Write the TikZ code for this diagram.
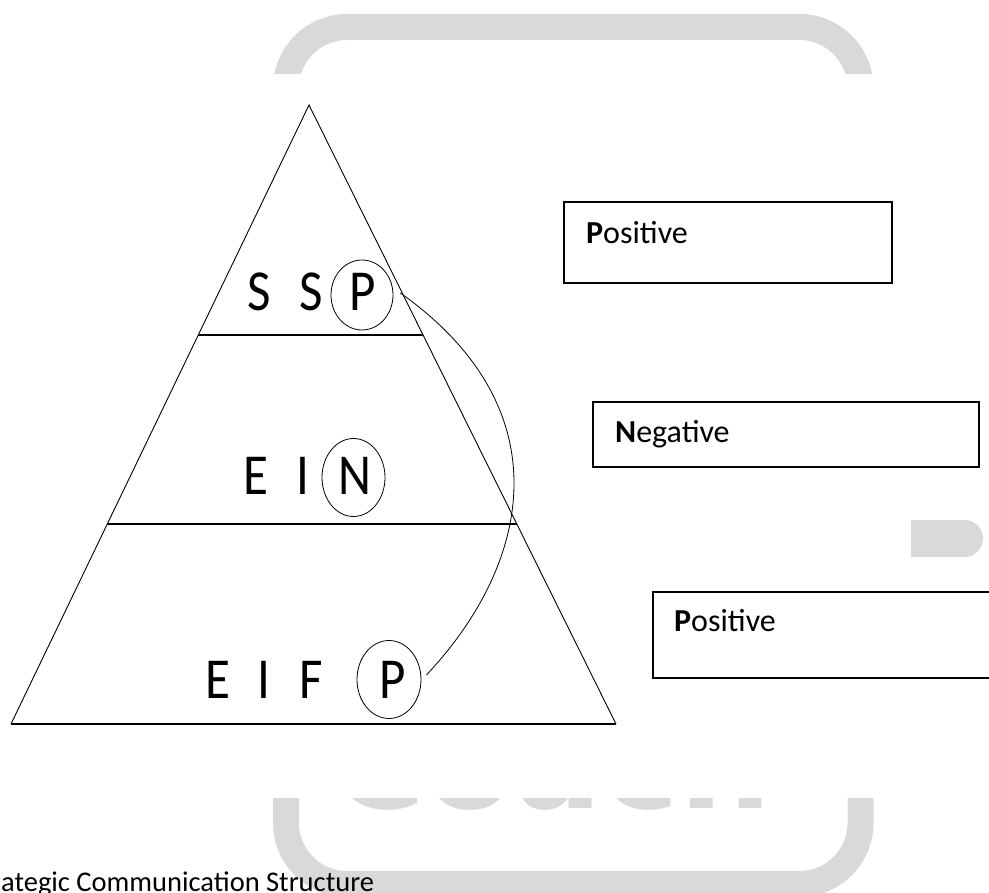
\documentclass[tikz,border=0pt]{standalone}
\usepackage{fontspec}
\setmainfont{Carlito}
\newfontfamily\wmfont{DejaVu Sans}
\usetikzlibrary{shapes.geometric,calc}
\definecolor{wmgray}{HTML}{D9D9D9}
\begin{document}
\begin{tikzpicture}[x=1pt,y=-1pt,
  letter/.style={font=\fontsize{58}{58}\selectfont, anchor=base, inner sep=0pt, xscale=0.88},
  ring/.style={draw, ellipse, line width=0.8pt, inner sep=0pt},
  labelbox/.style={draw, line width=1.5pt, rectangle, inner sep=0pt},
  boxtext/.style={font=\fontsize{32}{32}\selectfont, anchor=base west, inner sep=0pt},
  side/.style={line width=0.9pt},
  tier/.style={line width=1.2pt}]
\clip (0,0) rectangle (989,893);

% faint background logo
\begin{scope}
  \clip (0,0) rectangle (989,74) (0,798) rectangle (989,893);
  \draw[wmgray, line width=26pt, rounded corners=61pt] (286,27) rectangle (860.5,884);
  \node[font=\wmfont\bfseries\fontsize{130}{130}\selectfont, text=wmgray,
        anchor=base west, inner sep=0pt] (wmtext) at (330,808) {Coach};
\end{scope}
\fill[wmgray] (911,520) -- (965,520) to[out=0,in=90] (983,538.5)
  to[out=-90,in=0] (965,557) -- (911,557) -- cycle;

% pyramid
\coordinate (apex) at (309,105);
\coordinate (bl) at (11,724);
\coordinate (br) at (616,724);
\draw[side] (bl) -- (apex) -- (br);
\draw[line width=1.3pt] (bl) -- (br);
\draw[tier] ($(apex)!0.3716!(bl)$) -- ($(apex)!0.3716!(br)$);
\draw[tier] ($(apex)!0.6769!(bl)$) -- ($(apex)!0.6769!(br)$);

% top tier
\node[letter] (s1) at (259,311) {S};
\node[letter] (s2) at (311,311) {S};
\node[letter] (p1) at (362.5,311) {P};
\node[ring, minimum width=62pt, minimum height=70pt] (r1) at (362,295) {};

% middle tier
\node[letter] (e2) at (256,495) {E};
\node[letter] (i2) at (302.5,495) {I};
\node[letter] (n2) at (355,495) {N};
\node[ring, minimum width=63pt, minimum height=78pt] (r2) at (353.5,477.5) {};

% bottom tier
\node[letter] (e3) at (217.5,698.5) {E};
\node[letter] (i3) at (263.5,698.5) {I};
\node[letter] (f3) at (311.5,698.5) {F};
\node[letter] (p3) at (393,698.5) {P};
\node[ring, minimum width=64pt, minimum height=78pt] (r3) at (389,679.5) {};

% link between the two positive tiers
\coordinate (lk1) at ($(r1.east)+(7,-2)$);
\coordinate (lk3) at ($(r3.east)+(5,-4.5)$);
\draw[line width=0.8pt] (lk1) .. controls (565,410) and (530,565) .. (lk3);

% labels
\node[labelbox, minimum width=328pt, minimum height=81pt] (b1) at (728,242.5) {};
\node[boxtext] (t1) at (586,244) {\textbf{P}ositive};
\node[labelbox, minimum width=386pt, minimum height=65pt] (b2) at (786,434.5) {};
\node[boxtext] (t2) at (615,443) {\textbf{N}egative};
\node[labelbox, minimum width=360pt, minimum height=86pt] (b3) at (833,635) {};
\node[boxtext] (t3) at (674,631) {\textbf{P}ositive};

% caption
\node[boxtext, font=\fontsize{28.5}{28.5}\selectfont] (title) at (1,891) {ategic Communication Structure};
\end{tikzpicture}
\end{document}
